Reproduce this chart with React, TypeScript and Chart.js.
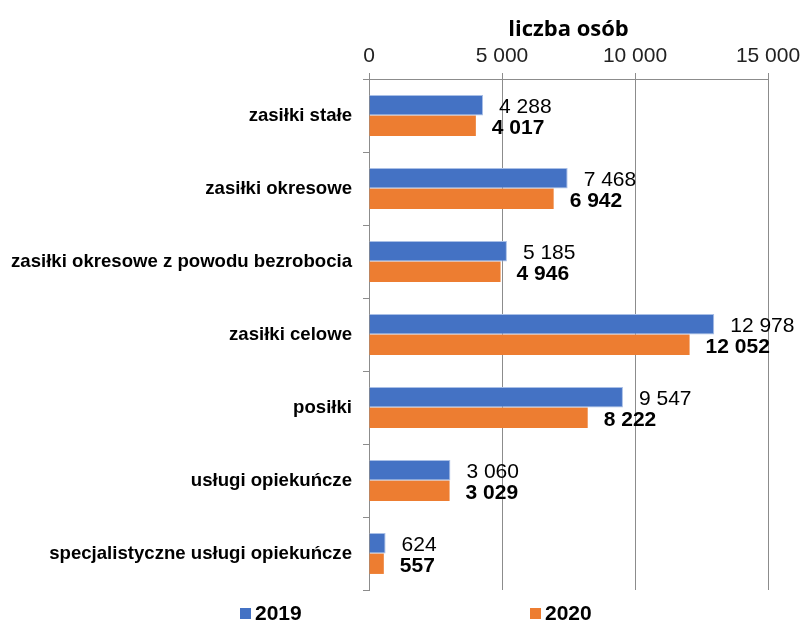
import React, { useEffect, useRef } from "react";
import { Chart, registerables } from "chart.js";

Chart.register(...registerables);

const categories = [
  "zasiłki stałe",
  "zasiłki okresowe",
  "zasiłki okresowe z powodu bezrobocia",
  "zasiłki celowe",
  "posiłki",
  "usługi opiekuńcze",
  "specjalistyczne usługi opiekuńcze",
];
const values2019 = [4288, 7468, 5185, 12978, 9547, 3060, 624];
const values2020 = [4017, 6942, 4946, 12052, 8222, 3029, 557];
const seriesLabels = ["2019", "2020"];
const axisTitle = "liczba osób";
const xMax = 15000;
const xStep = 5000;

const BLUE = "#4472C4";
const ORANGE = "#ED7D31";
const GRID = "#8c8c8c";
const FONT = "'Liberation Sans', Arial, sans-serif";

const fmt = (v: number) => String(v).replace(/\B(?=(\d{3})+(?!\d))/g, " ");

const labelPlugin = {
  id: "valueLabels",
  afterDatasetsDraw(chart: any) {
    const ctx = chart.ctx;
    ctx.save();
    chart.data.datasets.forEach((ds: any, di: number) => {
      const meta = chart.getDatasetMeta(di);
      ctx.font = (di === 1 ? "bold " : "") + "21px " + FONT;
      ctx.fillStyle = "#000";
      ctx.textAlign = "left";
      ctx.textBaseline = "middle";
      meta.data.forEach((el: any, i: number) => {
        ctx.fillText(fmt(ds.data[i]), el.x + 16, el.y + 2);
      });
    });
    ctx.restore();
  },
};

const legendPlugin = {
  id: "customLegend",
  afterDraw(chart: any) {
    const ctx = chart.ctx;
    ctx.save();
    const pos = [240, 530];
    chart.data.datasets.forEach((ds: any, di: number) => {
      const x = pos[di];
      ctx.fillStyle = ds.backgroundColor;
      ctx.fillRect(x, 608, 11, 11);
      ctx.fillStyle = "#000";
      ctx.font = "bold 21px " + FONT;
      ctx.textAlign = "left";
      ctx.textBaseline = "middle";
      ctx.fillText(ds.label, x + 15, 614);
    });
    ctx.restore();
  },
};

export default function App() {
  const ref = useRef<HTMLCanvasElement>(null);
  useEffect(() => {
    document.body.style.margin = "0";
    const chart = new Chart(ref.current!, {
      type: "bar",
      data: {
        labels: categories,
        datasets: [
          {
            label: seriesLabels[0],
            data: values2019,
            backgroundColor: BLUE,
            borderColor: "#a9bfe6",
            borderWidth: 1,
          },
          { label: seriesLabels[1], data: values2020, backgroundColor: ORANGE },
        ],
      },
      options: {
        indexAxis: "y",
        animation: false,
        responsive: false,
        datasets: { bar: { categoryPercentage: 0.56, barPercentage: 1 } },
        layout: { padding: { left: 0, right: 35, top: 0, bottom: 34 } },
        plugins: { legend: { display: false }, tooltip: { enabled: false } },
        scales: {
          x: {
            position: "top",
            min: 0,
            max: xMax,
            ticks: {
              stepSize: xStep,
              color: "#222",
              font: { size: 21, family: FONT },
              padding: 4,
              callback: (v: any) => fmt(Number(v)),
            },
            grid: { color: GRID, tickLength: 6, lineWidth: 1 },
            border: { color: GRID },
            title: {
              display: true,
              text: axisTitle,
              color: "#000",
              font: { size: 22, weight: "bold", family: "'Open Sans', sans-serif" },
              padding: { top: 17, bottom: 0 },
            },
            afterFit: (s: any) => {
              s.height = 79;
              s.paddingLeft = 0;
              s.paddingRight = 0;
            },
          },
          y: {
            ticks: {
              color: "#000",
              font: { size: 18.6, weight: "bold", family: FONT },
              padding: 11,
            },
            grid: { drawOnChartArea: false, drawTicks: true, tickLength: 6, color: GRID, offset: true },
            border: { color: GRID },
            afterFit: (s: any) => {
              s.width = 369;
            },
          },
        },
      },
      plugins: [labelPlugin, legendPlugin],
    });
    return () => chart.destroy();
  }, []);
  return (
    <div style={{ width: 803, height: 624 }}>
      <canvas ref={ref} width={803} height={624} style={{ display: "block" }} />
    </div>
  );
}
